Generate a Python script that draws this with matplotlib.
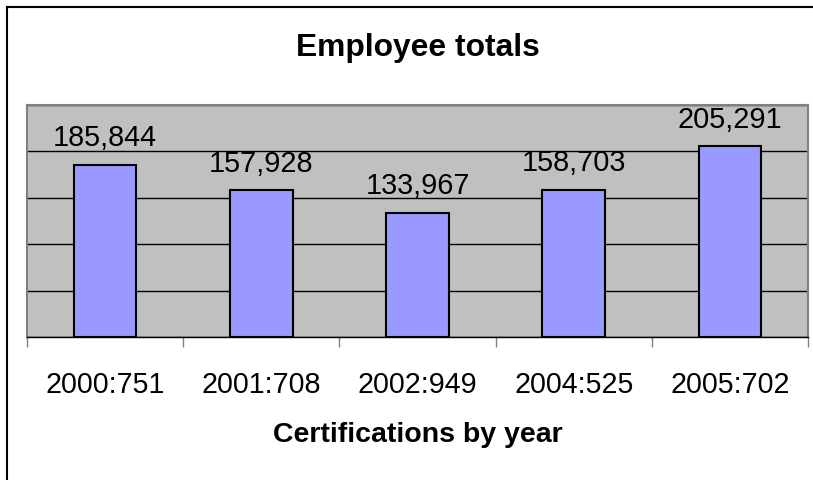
import matplotlib.pyplot as plt
from matplotlib.lines import Line2D

categorias = ["2000:751", "2001:708", "2002:949", "2004:525", "2005:702"]
empleados = [185844, 157928, 133967, 158703, 205291]

plt.rcParams['font.family'] = ['Liberation Sans', 'DejaVu Sans']

fig = plt.figure(figsize=(8.13, 4.81), dpi=100)
ax = fig.add_axes([27 / 813, 143 / 481, 781 / 813, 232 / 481])
ax.set_facecolor("#C0C0C0")

x = range(len(categorias))
ax.bar(x, empleados, width=0.4, color="#9999FF", edgecolor="black", linewidth=1.5, zorder=3)

for i, v in enumerate(empleados):
    ax.annotate(f"{v:,}", (i, v), xytext=(0, 14), textcoords="offset points",
                ha="center", va="baseline", fontsize=20.8)

ax.set_xlim(-0.5, len(categorias) - 0.5)
ax.set_ylim(0, 250000)
ax.set_yticks(range(0, 250001, 50000))
ax.yaxis.grid(True, color="black", linewidth=1, zorder=1)
ax.tick_params(axis="y", left=False, labelleft=False)

# ticks en los limites de categoria, etiquetas centradas
ax.set_xticks([i - 0.5 for i in range(len(categorias) + 1)])
ax.set_xticklabels([])
ax.set_xticks(list(x), minor=True)
ax.set_xticklabels(categorias, minor=True, fontsize=20.6)
ax.tick_params(axis="x", which="major", length=7.5, width=1, color="#808080")
ax.tick_params(axis="x", which="minor", length=0, pad=24)

for lado in ["top", "left", "right"]:
    ax.spines[lado].set_color("#808080")
    ax.spines[lado].set_linewidth(1.5)
ax.spines["bottom"].set_color("black")
ax.spines["bottom"].set_linewidth(1)

fig.text(418 / 813, 1 - 48 / 481, "Employee totals", ha="center", va="center",
         fontsize=22.9, fontweight="bold")
fig.text(418 / 813, 1 - 435 / 481, "Certifications by year", ha="center", va="center",
         fontsize=20.5, fontweight="bold")

# marco exterior (solo bordes superior e izquierdo visibles)
fig.add_artist(Line2D([7 / 813, 1], [1 - 8 / 481, 1 - 8 / 481], color="black", linewidth=1.5))
fig.add_artist(Line2D([7 / 813, 7 / 813], [0, 1 - 8 / 481], color="black", linewidth=1.5))

fig.savefig("out.png", dpi=100)
